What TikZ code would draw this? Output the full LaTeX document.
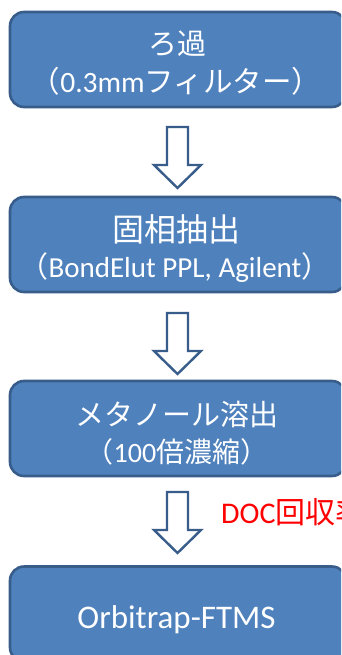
\documentclass[tikz,border=0pt]{standalone}
\usepackage{fontspec}
\setmainfont{Carlito}
\newfontfamily\jp{Noto Sans CJK JP}
\definecolor{boxfill}{HTML}{4F81BD}
\definecolor{boxline}{HTML}{385D8A}
\begin{document}
\begin{tikzpicture}[x=1pt,y=-1pt,
  procbox/.style={draw=boxline, line width=2.6pt, fill=boxfill, rounded corners=14pt,
    minimum width=336pt, minimum height=95pt, inner sep=0pt, text=white, align=center},
  downarrow/.pic={\draw[boxline, line width=2.4pt, fill=white, line join=miter]
    (-10.5,0) -- (10.5,0) -- (10.5,38) -- (23.5,38) -- (0,61) -- (-23.5,38) -- (-10.5,38) -- cycle;},
  boxtxt/.style={text=white, anchor=base, inner sep=0pt},
]
\clip (0,0) rectangle (341,655);
\fill[white] (0,0) rectangle (341,655);
% boxes
\node[procbox] (b1) at (178,59.5) {};
\node[procbox] (b2) at (178,244.5) {};
\node[procbox] (b3) at (178,428.5) {};
\node[procbox] (b4) at (178,614) {};
% texts
\node[boxtxt, font=\fontsize{29}{30}\jp\selectfont] (t1a) at (177,55) {ろ過};
\node[boxtxt, font=\fontsize{29.5}{30}\selectfont] (t1b) at (176,93) {{\jp （}0.3mm{\jp フィルター）}};
\node[boxtxt, font=\fontsize{32}{30}\jp\selectfont] (t2a) at (176,241) {固相抽出};
\node[boxtxt, font=\fontsize{29}{30}\selectfont] (t2b) at (175,277) {{\jp （}BondElut PPL, Agilent{\jp ）}};
\node[boxtxt, font=\fontsize{29}{30}\jp\selectfont] (t3a) at (177,425) {メタノール溶出};
\node[boxtxt, font=\fontsize{28}{30}\selectfont] (t3b) at (177,462) {{\jp （}100{\jp 倍濃縮）}};
\node[boxtxt, font=\fontsize{33}{30}\selectfont] (t4) at (176.5,628) {Orbitrap-FTMS};
% arrows
\coordinate (a1) at (177.5,127);
\coordinate (a2) at (177.5,313);
\coordinate (a3) at (177.5,492);
\pic at (a1) {downarrow};
\pic at (a2) {downarrow};
\pic at (a3) {downarrow};
% red label
\node[text=red, font=\fontsize{30}{30}\selectfont, anchor=base west, inner sep=0pt] (doc) at (221,523) {DOC{\jp 回収率}};
\end{tikzpicture}
\end{document}
